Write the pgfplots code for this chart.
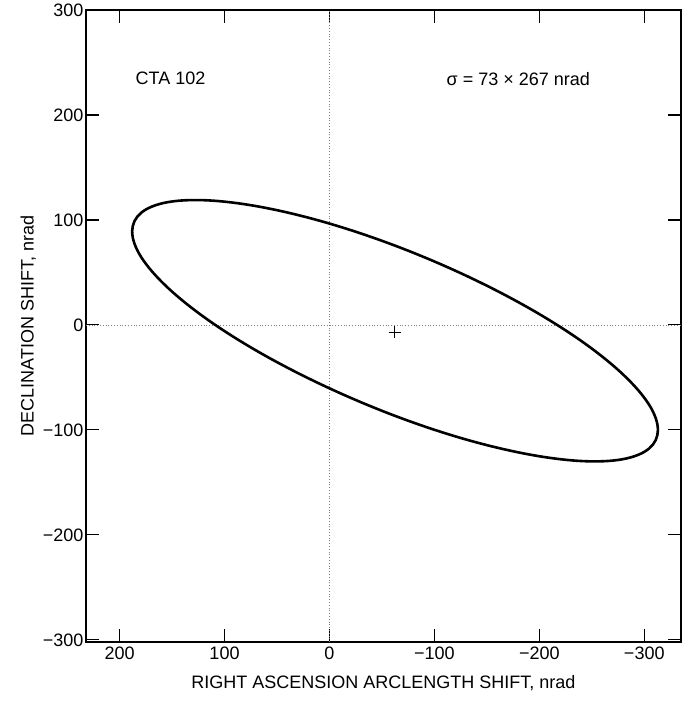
\documentclass[border=0pt]{standalone}
\usepackage{fontspec}
\setmainfont{Liberation Sans}
\usepackage{pgfplots}
\pgfplotsset{compat=1.18}
\begin{document}
\begin{tikzpicture}
\begin{axis}[
    name=ax,
    scale only axis,
    width=595pt, height=632pt,
    x dir=reverse,
    xmin=-335, xmax=232,
    ymin=-302, ymax=300,
    xtick={200,100,0,-100,-200,-300},
    xticklabels={200,100,0,−100,−200,−300},
    ytick={-300,-200,-100,0,100,200,300},
    yticklabels={−300,−200,−100,0,100,200,300},
    tick align=inside,
    major tick length=13pt,
    tick style={black, line width=1.1pt},
    axis line style={line width=1.6pt},
    ticklabel style={font=\fontsize{18}{20}\selectfont},
    xticklabel style={yshift=-1pt},
    yticklabel style={xshift=1pt},
    /pgf/number format/assume math mode=true,
    xlabel={RIGHT ASCENSION ARCLENGTH SHIFT, nrad},
    ylabel={DECLINATION SHIFT, nrad},
    label style={font=\fontsize{18}{20}\selectfont},
    xlabel style={yshift=-9pt},
    clip=false,
]
% zero lines
\addplot[gray, dotted, line width=0.8pt] coordinates {(0,-302) (0,300)};
\addplot[gray, dotted, line width=0.8pt] coordinates {(232,0) (-335,0)};
% error ellipse (every 15 deg round it)
\addplot[black, line width=2.6pt, smooth cycle, tension=0.6] coordinates {
    (188,89) (179.5,64.8) (154.4,35.8) (114.6,4.0) (62.75,-28.4) (2.3,-59.3)
    (-62.5,-86.6) (-127.3,-108.3) (-187.75,-122.9) (-239.6,-129.6) (-279.4,-127.9) (-304.5,-117.8)
    (-313,-100) (-304.5,-75.8) (-279.4,-46.8) (-239.6,-15.0) (-187.75,17.4) (-127.3,48.3)
    (-62.5,75.55) (2.3,97.25) (62.75,111.9) (114.6,118.6) (154.4,116.9) (179.5,106.8)
};
% nominal position
\addplot[black, only marks, mark=+, mark size=6pt, mark options={line width=0.8pt}] coordinates {(-62,-7)};
\node[font=\fontsize{18}{20}\selectfont, anchor=west] at (axis cs:188,235) {CTA 102};
\node[font=\fontsize{18}{20}\selectfont] at (axis cs:-180,234) {σ = 73 × 267 nrad};
\end{axis}
\path ([shift={(-86pt,-60pt)}]ax.south west) rectangle ([shift={(13pt,10pt)}]ax.north east);
\end{tikzpicture}
\end{document}
